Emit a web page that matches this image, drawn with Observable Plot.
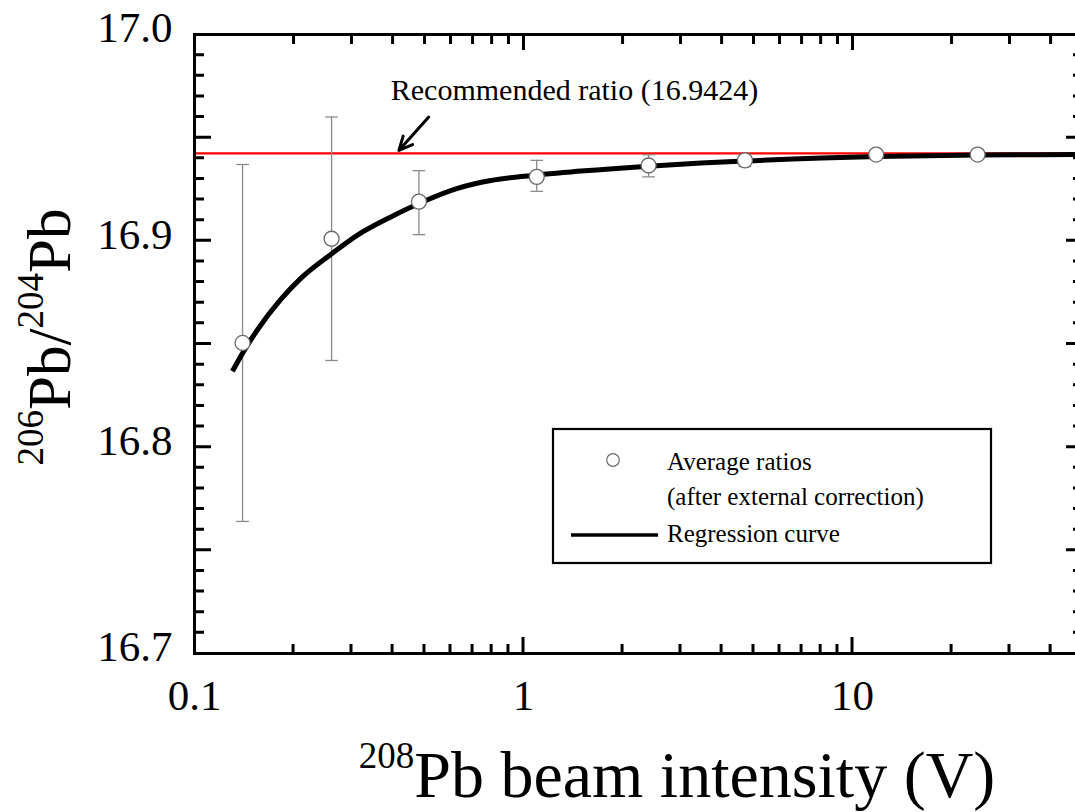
<!DOCTYPE html>
<html>
<head>
<meta charset="utf-8">
<script src="https://cdn.jsdelivr.net/npm/d3@7"></script>
<script src="https://cdn.jsdelivr.net/npm/@observablehq/plot@0.6"></script>
<style>
  html, body { margin: 0; padding: 0; background: #fff; overflow: hidden; }
  #chart { width: 1075px; height: 812px; }
</style>
</head>
<body>
<div id="chart"></div>
<script>
// ---- data ----
const beamIntensity = [0.140, 0.261, 0.481, 1.097, 2.40, 4.71, 11.8, 24.0];
const avgRatio      = [16.8505, 16.901, 16.919, 16.931, 16.9365, 16.939, 16.9418, 16.9418];
const errLow        = [16.764, 16.842, 16.903, 16.924, 16.931, 16.936, 16.940, 16.940];
const errHigh       = [16.937, 16.960, 16.934, 16.939, 16.9417, 16.942, 16.9435, 16.9435];

const curveX = [0.1304, 0.1415, 0.1554, 0.1829, 0.2104, 0.2596, 0.3129, 0.3951, 0.4989, 0.6300, 0.7956, 1.004, 1.494, 2.399, 3.459, 4.707, 11.86, 23.99, 50];
const curveY = [16.8368, 16.8468, 16.8569, 16.8716, 16.8818, 16.8934, 16.9028, 16.9116, 16.9192, 16.9254, 16.9292, 16.9313, 16.9338, 16.9362, 16.9377, 16.9387, 16.9409, 16.9416, 16.9418];

const recommendedRatio = 16.9424;
const annotationText = "Recommended ratio (16.9424)";
const annotationPos = [0.395, 16.9729];
const arrowTail = [0.515, 16.960];
const arrowHead = [0.418, 16.9438];

const xTickLabels = [0.1, 1, 10];
const xMajorTicks = [1, 10];
const xMinorTicks = [0.2,0.3,0.4,0.5,0.6,0.7,0.8,0.9, 2,3,4,5,6,7,8,9, 20,30,40];
const yTickLabels = [16.7, 16.8, 16.9, 17.0];
const yMajorTicks = [16.75, 16.8, 16.85, 16.9, 16.95];
const yMinorTicks = [16.71,16.72,16.73,16.74,16.76,16.77,16.78,16.79,16.81,16.82,16.83,16.84,16.86,16.87,16.88,16.89,16.91,16.92,16.93,16.94,16.96,16.97,16.98,16.99];

const legendPointLabel = ["Average ratios", "(after external correction)"];
const legendLineLabel = "Regression curve";

(function () {
  const points = beamIntensity.map((x, i) => ({x, y: avgRatio[i], lo: errLow[i], hi: errHigh[i]}));
  const curve = curveX.map((x, i) => ({x, y: curveY[i]}));

  const W = 1075, H = 812;
  const mL = 194, mT = 34, mB = 159, mR = -7;
  const innerW = W - mL - mR, innerH = H - mT - mB;
  const xMin = 0.1, xMax = 50, yMin = 16.7, yMax = 17.0;
  const serif = "'Liberation Serif', 'Times New Roman', Times, serif";
  const capSymbol = { draw(ctx) { ctx.moveTo(-6.3, 0); ctx.lineTo(6.3, 0); } };
  const tk = {stroke: "black", strokeWidth: 3};

  const plot = Plot.plot({
    width: W, height: H,
    marginLeft: mL, marginTop: mT, marginBottom: mB, marginRight: mR,
    style: {fontFamily: serif, background: "white", color: "black"},
    x: {type: "log", domain: [xMin, xMax]},
    y: {domain: [yMin, yMax]},
    marks: [
      Plot.ruleY([recommendedRatio], {stroke: "#ff0000", strokeWidth: 2.4}),
      Plot.ruleX(points, {x: "x", y1: "lo", y2: "hi", stroke: "#8a8a8a", strokeWidth: 1.3}),
      Plot.dot(points, {x: "x", y: "lo", symbol: capSymbol, stroke: "#8a8a8a", strokeWidth: 1.3, fill: "none"}),
      Plot.dot(points, {x: "x", y: "hi", symbol: capSymbol, stroke: "#8a8a8a", strokeWidth: 1.3, fill: "none"}),
      Plot.line(curve, {x: "x", y: "y", stroke: "black", strokeWidth: 5, curve: "monotone-x", strokeLinecap: "butt"}),
      Plot.dot(points, {x: "x", y: "y", r: 7.5, fill: "white", stroke: "#6a6a6a", strokeWidth: 1.3}),
      Plot.arrow([0], {x1: () => arrowTail[0], y1: () => arrowTail[1], x2: () => arrowHead[0], y2: () => arrowHead[1], stroke: "black", strokeWidth: 3, headLength: 16, headAngle: 50}),
      Plot.text([annotationText], {x: () => annotationPos[0], y: () => annotationPos[1], text: d => d, textAnchor: "start", fontSize: 30, fill: "black"}),
      Plot.axisX(xTickLabels, {anchor: "bottom", tickSize: 0, tickPadding: 26, fontSize: 43, label: null, tickFormat: d => String(d)}),
      Plot.axisY(yTickLabels, {anchor: "left", tickSize: 0, tickPadding: 22, fontSize: 43, label: null, dy: -6, tickFormat: d => d.toFixed(1)}),
      Plot.frame({stroke: "black", strokeWidth: 3}),
      // top ticks through Plot's tick marks
      Plot.tickX(xMinorTicks, {x: d => d, insetBottom: innerH - 10, ...tk}),
      Plot.tickX(xMajorTicks, {x: d => d, insetBottom: innerH - 16, ...tk})
    ]
  });

  document.getElementById("chart").appendChild(plot);
  const svg = d3.select(plot);

  // x-axis title
  const xt = svg.append("text")
    .attr("x", 677).attr("y", 797)
    .attr("text-anchor", "middle")
    .attr("font-family", serif).attr("fill", "black");
  xt.append("tspan").attr("font-size", 37).attr("dy", -29).text("208");
  xt.append("tspan").attr("font-size", 66).attr("dy", 29).text("Pb beam intensity (V)");

  // y-axis title
  const yt = svg.append("text")
    .attr("transform", "translate(70,337) rotate(-90)")
    .attr("text-anchor", "middle")
    .attr("font-family", serif).attr("fill", "black");
  yt.append("tspan").attr("font-size", 37).attr("dy", -27).text("206");
  yt.append("tspan").attr("font-size", 61).attr("dy", 27).text("Pb/");
  yt.append("tspan").attr("font-size", 37).attr("dy", -27).text("204");
  yt.append("tspan").attr("font-size", 61).attr("dy", 27).text("Pb");

  // legend
  const lg = svg.append("g").attr("font-family", serif).attr("fill", "black").attr("text-anchor", "start");
  lg.append("rect").attr("x", 553).attr("y", 429).attr("width", 438).attr("height", 134)
    .attr("fill", "white").attr("stroke", "black").attr("stroke-width", 2.2);
  lg.append("circle").attr("cx", 613).attr("cy", 460).attr("r", 6.3)
    .attr("fill", "white").attr("stroke", "#6a6a6a").attr("stroke-width", 1.2);
  lg.append("text").attr("x", 667).attr("y", 470).attr("font-size", 25).attr("text-anchor", "start").text(legendPointLabel[0]);
  lg.append("text").attr("x", 667).attr("y", 505).attr("font-size", 25).attr("text-anchor", "start").text(legendPointLabel[1]);
  lg.append("line").attr("x1", 571).attr("x2", 658).attr("y1", 535).attr("y2", 535)
    .attr("stroke", "black").attr("stroke-width", 3.5);
  lg.append("text").attr("x", 667).attr("y", 542).attr("font-size", 25).attr("text-anchor", "start").text(legendLineLabel);

  // left / right / bottom ticks as one path per side, with the same log/linear mapping as Plot's scales
  const X = d3.scaleLog().domain([xMin, xMax]).range([mL, W - mR]);
  const Y = d3.scaleLinear().domain([yMin, yMax]).range([H - mB, mT]);
  const fL = mL, fR = W - mR, fB = H - mB;
  let pL = "", pR = "", pB = "";
  yMinorTicks.forEach(v => { const y = Y(v); pL += `M${fL},${y}H${fL + 10}`; pR += `M${fR},${y}H${fR - 9}`; });
  yMajorTicks.forEach(v => { const y = Y(v); pL += `M${fL},${y}H${fL + 17}`; pR += `M${fR},${y}H${fR - 16}`; });
  xMinorTicks.forEach(v => { const x = X(v); pB += `M${x},${fB}V${fB - 9}`; });
  xMajorTicks.forEach(v => { const x = X(v); pB += `M${x},${fB}V${fB - 16}`; });
  [pL, pR, pB].forEach(d => svg.append("path").attr("d", d).attr("fill", "none").attr("stroke", "black").attr("stroke-width", 3));
})();
</script>
</body>
</html>
